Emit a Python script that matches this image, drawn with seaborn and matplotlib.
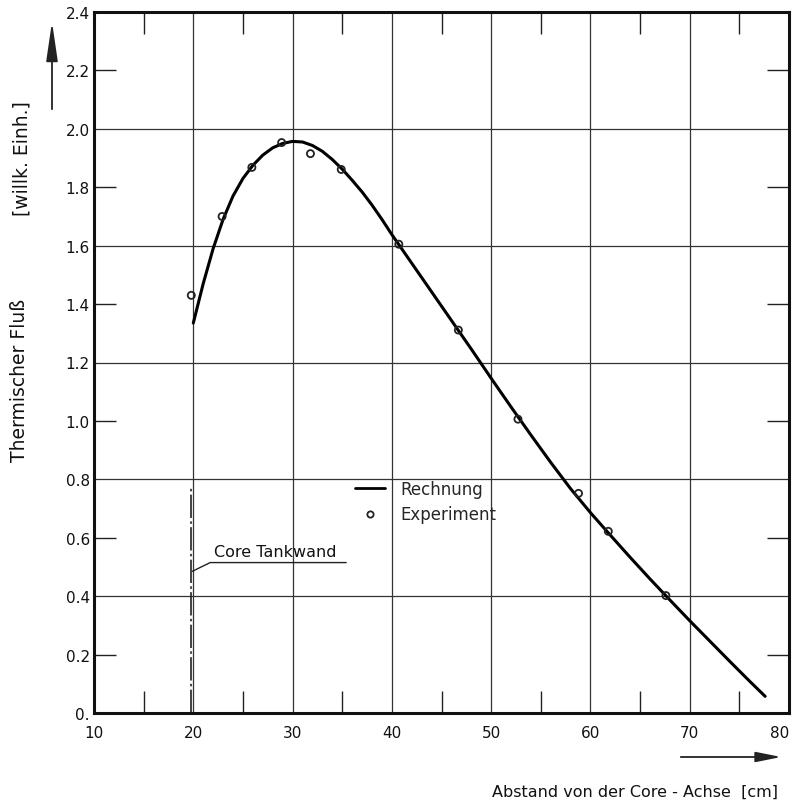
import numpy as np
import pandas as pd
import matplotlib
matplotlib.use("Agg")
import matplotlib.pyplot as plt
import seaborn as sns
from matplotlib.lines import Line2D
from matplotlib.patches import FancyArrowPatch

# ---- data ----
# Rechnung (calculated curve)
calc_x = [20.0, 21, 22, 23, 24, 25, 26, 27, 28, 29, 30, 31, 32, 33, 34, 35, 36, 37, 38, 39, 40,
          42, 44, 46, 48, 50, 52, 54, 56, 58, 60, 62, 64, 66, 68, 70, 72, 74, 76, 77.6]
calc_y = [1.335, 1.47, 1.59, 1.69, 1.77, 1.83, 1.875, 1.91, 1.935, 1.95, 1.957, 1.955, 1.943, 1.923,
          1.895, 1.862, 1.824, 1.784, 1.739, 1.69, 1.638,
          1.54, 1.442, 1.344, 1.246, 1.146, 1.048, 0.952, 0.858, 0.768, 0.686, 0.609, 0.533, 0.459,
          0.387, 0.316, 0.247, 0.178, 0.11, 0.057]
# Experiment (measured points)
exp_x = [19.8, 22.9, 25.9, 28.9, 31.8, 34.9, 40.7, 46.7, 52.7, 58.8, 61.8, 67.6]
exp_y = [1.43, 1.70, 1.868, 1.953, 1.915, 1.861, 1.605, 1.311, 1.006, 0.752, 0.622, 0.402]

tankwand_x = 19.75
tankwand_top = 0.77

x_major = [10, 20, 30, 40, 50, 60, 70, 80]
x_minor = [15, 25, 35, 45, 55, 65, 75]
y_major = [0.0, 0.4, 0.8, 1.2, 1.6, 2.0, 2.4]
y_major_labels = ["0.", "0.4", "0.8", "1.2", "1.6", "2.0", "2.4"]
y_minor = [0.2, 0.6, 1.0, 1.4, 1.8, 2.2]
y_minor_labels = ["0.2", "0.6", "1.0", "1.4", "1.8", "2.2"]

calc_df = pd.DataFrame({"x": calc_x, "y": calc_y})
exp_df = pd.DataFrame({"x": exp_x, "y": exp_y})

sns.set_theme(style="white")
plt.rcParams["font.family"] = ["DejaVu Sans"]

W, H = 795, 804
fig = plt.figure(figsize=(W / 100, H / 100), dpi=100)
ax = fig.add_axes([94 / W, 1 - 714 / H, (789 - 94) / W, (714 - 13) / H])

sns.lineplot(data=calc_df, x="x", y="y", ax=ax, color="black", linewidth=2.2,
             sort=False, estimator=None, zorder=3)
sns.scatterplot(data=exp_df, x="x", y="y", ax=ax, marker="o", s=26,
                facecolor="none", edgecolor="#222222", linewidth=1.3, zorder=4)

ax.set_xlim(10, 80)
ax.set_ylim(0, 2.4)
ax.set_xlabel("")
ax.set_ylabel("")

ax.set_xticks(x_major)
ax.set_xticklabels([str(v) for v in x_major])
ax.set_xticks(x_minor, minor=True)
ax.set_yticks(y_major)
ax.set_yticklabels(y_major_labels)
ax.set_yticks(y_minor, minor=True)
ax.set_yticklabels(y_minor_labels, minor=True)

for lab in ax.get_xticklabels() + ax.get_yticklabels() + ax.get_yticklabels(minor=True):
    lab.set_fontsize(11)
    lab.set_color("#111111")
ax.get_xticklabels()[-1].set_horizontalalignment("right")

ax.tick_params(axis="both", which="major", length=0, direction="in")
ax.tick_params(axis="x", which="major", pad=9)
ax.tick_params(axis="y", which="both", pad=3)
ax.tick_params(axis="both", which="minor", length=16, width=1.0, direction="in",
               top=True, right=True, bottom=True, left=True, color="#222222")
ax.tick_params(axis="y", which="minor", labelleft=True)
ax.tick_params(axis="x", which="minor", labelbottom=False)

ax.grid(True, which="major", color="#333333", linewidth=0.9)
for s in ax.spines.values():
    s.set_color("#111111")
    s.set_linewidth(2.2)

# Core tank wall
ax.plot([tankwand_x, tankwand_x], [0, tankwand_top], color="#222222", linewidth=1.2,
        linestyle=(0, (14, 2, 1.5, 2)), zorder=2)
ax.plot([19.9, 21.7, 35.4], [0.485, 0.515, 0.515], color="#222222", linewidth=1.0)
ax.text(22.1, 0.527, "Core Tankwand", fontsize=11.5, ha="left", va="bottom", color="#111111")

# legend
handles = [Line2D([0], [0], color="black", linewidth=2.0),
           Line2D([0], [0], marker="o", linestyle="none", markersize=4.5,
                  markerfacecolor="none", markeredgecolor="#222222", markeredgewidth=1.3)]
leg = ax.legend(handles, ["Rechnung", "Experiment"], loc="upper left",
                bbox_to_anchor=((355 - 94) / 695, (714 - 481) / 701), frameon=False,
                fontsize=12, handlelength=1.8, handletextpad=0.9, labelspacing=0.45,
                borderpad=0, borderaxespad=0)

# axis labels
fig.text(20 / W, 1 - 380 / H, "Thermischer Fluß", rotation=90, ha="center", va="center",
         fontsize=13.5, color="#111111")
fig.text(22 / W, 1 - 159 / H, "[willk. Einh.]", rotation=90, ha="center", va="center",
         fontsize=13.5, color="#111111")
fig.text(778 / W, 1 - 792 / H, "Abstand von der Core - Achse  [cm]", ha="right", va="center",
         fontsize=11.5, color="#111111")

# arrows
arr_y = FancyArrowPatch((52 / W, 1 - 113 / H), (52 / W, 1 - 20 / H), transform=fig.transFigure,
                        arrowstyle="-|>,head_length=1.5,head_width=0.22", mutation_scale=16,
                        color="#222222", linewidth=1.3)
fig.patches.append(arr_y)
arr_x = FancyArrowPatch((678 / W, 1 - 758 / H), (784 / W, 1 - 758 / H), transform=fig.transFigure,
                        arrowstyle="-|>,head_length=1.1,head_width=0.22", mutation_scale=14,
                        color="#222222", linewidth=1.3)
fig.patches.append(arr_x)

fig.savefig("out.png", dpi=100)
